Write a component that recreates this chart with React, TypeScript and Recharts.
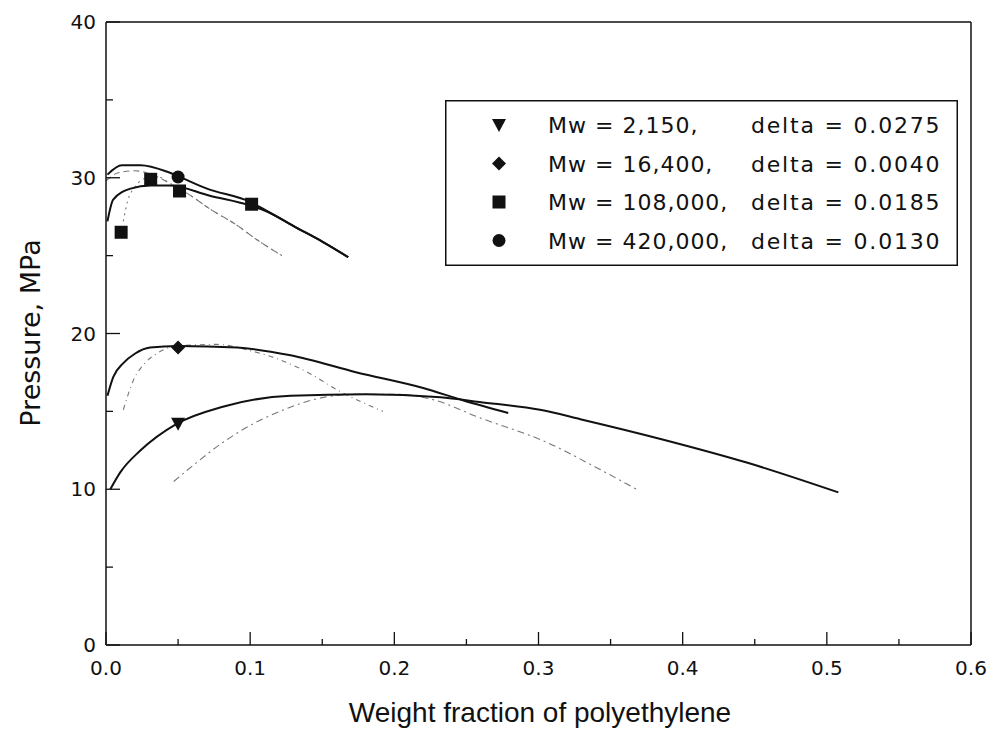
import { ComposedChart, Line, Scatter, XAxis, YAxis, Legend } from "recharts";

// weight fraction (w) vs pressure in MPa (p)
const mw2150Calc = [
  { w: 0.003, p: 10.0 }, { w: 0.01, p: 11.1 }, { w: 0.024, p: 12.5 }, { w: 0.049, p: 14.2 },
  { w: 0.081, p: 15.3 }, { w: 0.128, p: 16.0 }, { w: 0.18, p: 16.1 }, { w: 0.232, p: 15.9 },
  { w: 0.259, p: 15.6 }, { w: 0.301, p: 15.1 }, { w: 0.329, p: 14.5 }, { w: 0.386, p: 13.2 },
  { w: 0.445, p: 11.7 }, { w: 0.508, p: 9.8 },
];
const mw2150Fit = [
  { w: 0.047, p: 10.5 }, { w: 0.06, p: 11.5 }, { w: 0.081, p: 13.0 }, { w: 0.1, p: 14.1 },
  { w: 0.118, p: 14.9 }, { w: 0.151, p: 15.9 }, { w: 0.175, p: 16.1 }, { w: 0.2, p: 16.1 },
  { w: 0.225, p: 15.8 }, { w: 0.259, p: 14.6 }, { w: 0.306, p: 13.0 }, { w: 0.34, p: 11.4 },
  { w: 0.368, p: 10.0 },
];
const mw16400Calc = [
  { w: 0.001, p: 16.0 }, { w: 0.005, p: 17.2 }, { w: 0.012, p: 18.1 }, { w: 0.02, p: 18.7 },
  { w: 0.0305, p: 19.1 }, { w: 0.05, p: 19.2 }, { w: 0.091, p: 19.1 }, { w: 0.128, p: 18.6 },
  { w: 0.174, p: 17.5 }, { w: 0.22, p: 16.5 }, { w: 0.248, p: 15.7 }, { w: 0.279, p: 14.9 },
];
const mw16400Fit = [
  { w: 0.012, p: 15.1 }, { w: 0.019, p: 17.0 }, { w: 0.027, p: 18.1 }, { w: 0.035, p: 18.7 },
  { w: 0.049, p: 19.2 }, { w: 0.077, p: 19.3 }, { w: 0.1, p: 18.9 }, { w: 0.118, p: 18.4 },
  { w: 0.14, p: 17.5 }, { w: 0.16, p: 16.4 }, { w: 0.192, p: 15.0 },
];
const mw108000Calc = [
  { w: 0.001, p: 27.2 }, { w: 0.005, p: 28.6 }, { w: 0.017, p: 29.3 }, { w: 0.031, p: 29.5 },
  { w: 0.044, p: 29.5 }, { w: 0.072, p: 28.85 }, { w: 0.101, p: 28.2 }, { w: 0.11, p: 27.9 },
  { w: 0.132, p: 26.8 }, { w: 0.15, p: 25.9 }, { w: 0.168, p: 24.9 },
];
const mw108000Fit = [
  { w: 0.012, p: 27.2 }, { w: 0.015, p: 28.5 }, { w: 0.02, p: 29.4 }, { w: 0.028, p: 30.0 },
  { w: 0.035, p: 30.1 }, { w: 0.045, p: 29.6 }, { w: 0.058, p: 28.9 }, { w: 0.072, p: 28.0 },
  { w: 0.09, p: 27.0 }, { w: 0.105, p: 26.0 }, { w: 0.122, p: 25.0 },
];
const mw420000Calc = [
  { w: 0.001, p: 30.2 }, { w: 0.011, p: 30.8 }, { w: 0.024, p: 30.8 }, { w: 0.042, p: 30.4 },
  { w: 0.05, p: 30.1 }, { w: 0.07, p: 29.3 }, { w: 0.1, p: 28.45 }, { w: 0.11, p: 27.95 },
  { w: 0.132, p: 26.8 }, { w: 0.15, p: 25.9 }, { w: 0.168, p: 24.9 },
];
const mw420000Fit = [
  { w: 0.0, p: 29.8 }, { w: 0.008, p: 30.3 }, { w: 0.02, p: 30.45 }, { w: 0.032, p: 30.2 },
  { w: 0.045, p: 29.6 }, { w: 0.058, p: 28.9 }, { w: 0.072, p: 28.0 }, { w: 0.09, p: 27.0 },
  { w: 0.105, p: 26.0 }, { w: 0.122, p: 25.0 },
];

// experimental points
const pts2150 = [{ w: 0.05, p: 14.2 }];
const pts16400 = [{ w: 0.05, p: 19.1 }];
const pts108000 = [{ w: 0.0105, p: 26.5 }, { w: 0.031, p: 29.9 }, { w: 0.051, p: 29.15 }, { w: 0.101, p: 28.3 }];
const pts420000 = [{ w: 0.05, p: 30.05 }];

const legendMw = ["Mw = 2,150,", "Mw = 16,400,", "Mw = 108,000,", "Mw = 420,000,"];
const legendDelta = ["delta = 0.0275", "delta = 0.0040", "delta = 0.0185", "delta = 0.0130"];
const legendShapes = ["triangle", "diamond", "square", "circle"];

const xTicks = [0, 0.05, 0.1, 0.15, 0.2, 0.25, 0.3, 0.35, 0.4, 0.45, 0.5, 0.55, 0.6];
const yTicks = [0, 5, 10, 15, 20, 25, 30, 35, 40];

const FONT = "'DejaVu Sans', sans-serif";
const INK = "#111";
const FIT = "#777";

function Marker({ kind, cx, cy }: { kind: string; cx: number; cy: number }) {
  if (kind === "triangle") {
    return <polygon points={`${cx - 7},${cy - 6} ${cx + 7},${cy - 6} ${cx},${cy + 7}`} fill={INK} />;
  }
  if (kind === "diamond") {
    return <polygon points={`${cx},${cy - 7} ${cx + 7},${cy} ${cx},${cy + 7} ${cx - 7},${cy}`} fill={INK} />;
  }
  if (kind === "square") {
    return <rect x={cx - 6.5} y={cy - 6.5} width={13} height={13} fill={INK} />;
  }
  return <circle cx={cx} cy={cy} r={6.5} fill={INK} />;
}

const shapeOf = (kind: string) => (props: any) => <Marker kind={kind} cx={props.cx} cy={props.cy} />;

const isMajorX = (v: number) => Math.round(v * 100) % 10 === 0;
const isMajorY = (v: number) => v % 10 === 0;

function BottomTick({ x, y, payload }: any) {
  const major = isMajorX(payload.value);
  return (
    <g>
      <line x1={x} y1={y} x2={x} y2={y - (major ? 13 : 6)} stroke={INK} strokeWidth={1.3} />
      {major && (
        <text x={x} y={y + 30} textAnchor="middle" fontFamily={FONT} fontSize={20} fill={INK}>
          {payload.value.toFixed(1)}
        </text>
      )}
    </g>
  );
}

function TopTick({ x, y, payload }: any) {
  const major = isMajorX(payload.value);
  return <line x1={x} y1={y} x2={x} y2={y + (major ? 13 : 6)} stroke={INK} strokeWidth={1.3} />;
}

function LeftTick({ x, y, payload }: any) {
  const major = isMajorY(payload.value);
  return (
    <g>
      <line x1={x} y1={y} x2={x + (major ? 14 : 7)} y2={y} stroke={INK} strokeWidth={1.3} />
      {major && (
        <text x={x - 10} y={y + 7} textAnchor="end" fontFamily={FONT} fontSize={20} fill={INK}>
          {payload.value}
        </text>
      )}
    </g>
  );
}

function RightTick({ x, y, payload }: any) {
  const major = isMajorY(payload.value);
  return <line x1={x} y1={y} x2={x - (major ? 14 : 7)} y2={y} stroke={INK} strokeWidth={1.3} />;
}

function LegendBox() {
  return (
    <svg width={513} height={166}>
      <rect x={0.75} y={0.75} width={511.5} height={164.5} fill="#fff" stroke={INK} strokeWidth={1.5} />
      {legendMw.map((label, i) => {
        const cy = 25 + i * 38.5;
        return (
          <g key={label}>
            <Marker kind={legendShapes[i]} cx={54} cy={cy} />
            <text x={103} y={cy + 8} fontFamily={FONT} fontSize={22} letterSpacing={1} fill={INK}>
              {label}
            </text>
            <text x={306} y={cy + 8} fontFamily={FONT} fontSize={22} letterSpacing={1.8} fill={INK}>
              {legendDelta[i]}
            </text>
          </g>
        );
      })}
    </svg>
  );
}

const axisLine = { stroke: INK, strokeWidth: 1.5 };

export default function App() {
  return (
    <div style={{ position: "absolute", left: 0, top: 0, width: 993, height: 734, background: "#fff" }}>
      <ComposedChart width={993} height={734} margin={{ top: 12, right: 12, bottom: 39, left: 46 }}>
        <XAxis xAxisId="b" dataKey="w" type="number" domain={[0, 0.6]} ticks={xTicks} height={50}
          axisLine={axisLine} tickLine={false} tickSize={0} tickMargin={0} tick={<BottomTick />} interval={0} />
        <XAxis xAxisId="t" orientation="top" dataKey="w" type="number" domain={[0, 0.6]} ticks={xTicks} height={10}
          axisLine={axisLine} tickLine={false} tickSize={0} tickMargin={0} tick={<TopTick />} interval={0} />
        <YAxis yAxisId="l" dataKey="p" type="number" domain={[0, 40]} ticks={yTicks} width={60}
          axisLine={axisLine} tickLine={false} tickSize={0} tickMargin={0} tick={<LeftTick />} interval={0} />
        <YAxis yAxisId="r" orientation="right" dataKey="p" type="number" domain={[0, 40]} ticks={yTicks} width={10}
          axisLine={axisLine} tickLine={false} tickSize={0} tickMargin={0} tick={<RightTick />} interval={0} />

        <Line xAxisId="b" yAxisId="l" data={mw2150Fit} dataKey="p" type="monotone" stroke={FIT} strokeWidth={1.1} strokeDasharray="7 4 2 4" dot={false} isAnimationActive={false} />
        <Line xAxisId="b" yAxisId="l" data={mw16400Fit} dataKey="p" type="monotone" stroke={FIT} strokeWidth={1.1} strokeDasharray="5 4 1 4" dot={false} isAnimationActive={false} />
        <Line xAxisId="b" yAxisId="l" data={mw108000Fit} dataKey="p" type="monotone" stroke={FIT} strokeWidth={1.1} strokeDasharray="2 4" dot={false} isAnimationActive={false} />
        <Line xAxisId="b" yAxisId="l" data={mw420000Fit} dataKey="p" type="monotone" stroke={FIT} strokeWidth={1.1} strokeDasharray="6 4" dot={false} isAnimationActive={false} />

        <Line xAxisId="b" yAxisId="l" data={mw2150Calc} dataKey="p" type="monotone" stroke={INK} strokeWidth={2} dot={false} isAnimationActive={false} />
        <Line xAxisId="b" yAxisId="l" data={mw16400Calc} dataKey="p" type="monotone" stroke={INK} strokeWidth={2} dot={false} isAnimationActive={false} />
        <Line xAxisId="b" yAxisId="l" data={mw108000Calc} dataKey="p" type="monotone" stroke={INK} strokeWidth={2} dot={false} isAnimationActive={false} />
        <Line xAxisId="b" yAxisId="l" data={mw420000Calc} dataKey="p" type="monotone" stroke={INK} strokeWidth={2} dot={false} isAnimationActive={false} />

        <Scatter xAxisId="b" yAxisId="l" data={pts2150} dataKey="p" shape={shapeOf("triangle")} isAnimationActive={false} />
        <Scatter xAxisId="b" yAxisId="l" data={pts16400} dataKey="p" shape={shapeOf("diamond")} isAnimationActive={false} />
        <Scatter xAxisId="b" yAxisId="l" data={pts108000} dataKey="p" shape={shapeOf("square")} isAnimationActive={false} />
        <Scatter xAxisId="b" yAxisId="l" data={pts420000} dataKey="p" shape={shapeOf("circle")} isAnimationActive={false} />

        <Legend layout="vertical" align="center" verticalAlign="middle" content={() => <LegendBox />}
          wrapperStyle={{ position: "absolute", left: 445, top: 100, width: 513, height: 166 }} />
      </ComposedChart>
      <div style={{ position: "absolute", left: 540, top: 697, transform: "translateX(-50%)", whiteSpace: "nowrap",
        fontFamily: "'Liberation Sans', sans-serif", fontSize: 28, color: INK, lineHeight: "32px" }}>
        Weight fraction of polyethylene
      </div>
      <div style={{ position: "absolute", left: 31, top: 333, transform: "translate(-50%, -50%) rotate(-90deg)", whiteSpace: "nowrap",
        fontFamily: FONT, fontSize: 27, color: INK, lineHeight: "32px" }}>
        Pressure, MPa
      </div>
    </div>
  );
}
